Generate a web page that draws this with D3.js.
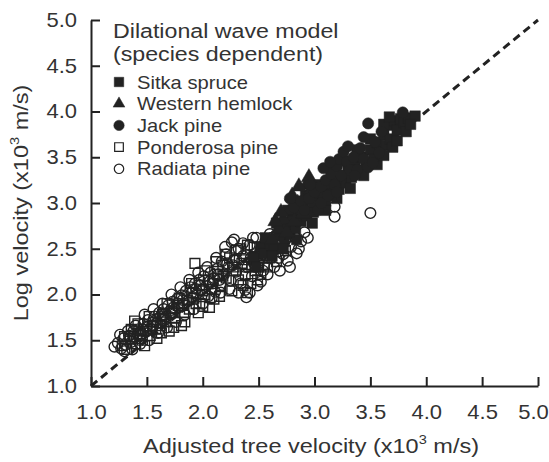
<!DOCTYPE html>
<html>
<head>
<meta charset="utf-8">
<script src="https://cdn.jsdelivr.net/npm/d3@7"></script>
<style>
  body { margin: 0; background: #fff; }
  svg { display: block; font-family: "Liberation Sans", Arial, sans-serif; }
</style>
</head>
<body>
<div id="chart"></div>
<script>
// ticks shared by both axes
const xTicks = [1.0, 1.5, 2.0, 2.5, 3.0, 3.5, 4.0, 4.5, 5.0]
const yTicks = [1.0, 1.5, 2.0, 2.5, 3.0, 3.5, 4.0, 4.5, 5.0]
const refLine = [[1, 1], [5, 5]]

// [adjusted tree velocity, log velocity] in 10^3 m/s
const radiataPine = [
  [1.21, 1.43], [1.24, 1.47], [1.27, 1.41], [1.29, 1.52], [1.31, 1.45], [1.34, 1.55],
  [1.36, 1.48], [1.38, 1.60], [1.41, 1.52], [1.43, 1.62], [1.45, 1.55], [1.47, 1.68],
  [1.49, 1.59], [1.51, 1.72], [1.53, 1.63], [1.55, 1.66], [1.57, 1.76], [1.59, 1.69],
  [1.61, 1.80], [1.63, 1.72], [1.65, 1.84], [1.67, 1.76], [1.69, 1.88], [1.71, 1.79],
  [1.73, 1.92], [1.75, 1.84], [1.77, 1.95], [1.79, 1.86], [1.81, 1.99], [1.83, 1.90],
  [1.85, 2.04], [1.87, 1.93], [1.89, 2.08], [1.91, 1.97], [1.93, 2.12], [1.95, 2.01],
  [1.97, 2.16], [1.99, 2.05], [2.01, 2.20], [2.03, 2.09], [2.05, 1.98], [2.07, 2.24],
  [2.09, 2.12], [2.11, 2.03], [2.13, 2.28], [2.15, 2.16], [2.17, 2.36], [2.19, 2.22],
  [2.21, 2.44], [2.23, 2.30], [2.25, 2.15], [2.26, 2.57], [2.28, 2.38], [2.30, 2.25],
  [2.32, 2.50], [2.34, 2.12], [2.36, 2.42], [2.38, 2.05], [2.39, 1.97], [2.40, 2.30],
  [2.42, 2.54], [2.44, 2.20], [2.46, 2.44], [2.48, 2.62], [2.49, 2.10], [2.50, 2.34],
  [2.52, 2.50], [2.54, 2.26], [2.56, 2.58], [2.58, 2.40], [2.60, 2.66], [2.62, 2.48],
  [2.64, 2.30], [2.66, 2.56], [2.69, 2.26], [2.72, 2.44], [2.74, 2.60], [2.76, 2.37],
  [2.79, 2.52], [2.82, 2.64], [2.84, 2.45], [2.88, 2.58], [2.91, 2.68], [2.94, 2.62],
  [1.26, 1.56], [1.30, 1.38], [1.33, 1.60], [1.37, 1.40], [1.40, 1.66], [1.44, 1.46],
  [1.48, 1.78], [1.52, 1.50], [1.56, 1.84], [1.60, 1.58], [1.64, 1.90], [1.68, 1.64],
  [1.72, 2.00], [1.76, 1.70], [1.80, 2.08], [1.84, 1.78], [1.88, 2.16], [1.92, 1.84],
  [1.96, 2.24], [2.00, 1.90], [2.04, 2.30], [2.08, 1.96], [2.12, 2.40], [2.16, 2.02],
  [2.20, 2.52], [2.24, 2.06], [2.28, 2.60], [2.32, 2.02], [2.36, 2.56], [2.42, 2.02],
  [2.45, 2.62], [2.52, 2.14], [2.58, 2.22], [2.62, 2.62], [2.68, 2.40], [2.78, 2.30],
  [2.86, 2.50], [2.70, 2.65],
  [1.35, 1.52], [1.42, 1.57], [1.50, 1.64], [1.58, 1.72], [1.66, 1.78], [1.74, 1.86],
  [1.82, 1.94], [1.90, 2.02], [1.98, 2.10], [2.06, 2.14], [2.14, 2.22], [2.22, 2.34],
  [2.30, 2.38], [2.38, 2.30], [2.46, 2.34], [2.54, 2.40], [2.60, 2.50], [1.46, 1.62],
  [1.62, 1.76], [1.78, 1.90], [1.94, 2.06], [2.10, 2.18], [2.27, 2.32], [2.43, 2.40],
  [3.18, 2.96], [3.18, 2.85], [3.50, 2.89]
]
const ponderosaPine = [
  [1.28, 1.44], [1.32, 1.40], [1.35, 1.52], [1.39, 1.71], [1.40, 1.46], [1.44, 1.57],
  [1.46, 1.50], [1.50, 1.62], [1.53, 1.55], [1.56, 1.70], [1.59, 1.52], [1.62, 1.66],
  [1.64, 1.78], [1.67, 1.70], [1.70, 1.60], [1.72, 1.82], [1.75, 1.74], [1.78, 1.88],
  [1.81, 1.66], [1.83, 1.80], [1.86, 1.94], [1.88, 1.84], [1.91, 2.02], [1.93, 2.34],
  [1.94, 1.90], [1.97, 2.10], [2.00, 1.87], [2.02, 2.00], [2.05, 2.16], [2.08, 2.06],
  [2.10, 1.95], [2.13, 2.22], [2.16, 2.10], [2.18, 2.32], [2.21, 2.18], [2.24, 2.40],
  [2.27, 2.26], [2.30, 2.48], [2.32, 2.16], [2.35, 2.34], [2.38, 2.22], [2.40, 2.54],
  [2.43, 2.12], [2.45, 2.38], [2.47, 2.26], [2.49, 2.16], [2.52, 2.44], [2.55, 2.32],
  [2.57, 2.55], [2.60, 2.40], [2.63, 2.50], [2.66, 2.36], [2.70, 2.56], [2.74, 2.48],
  [1.30, 1.54], [1.36, 1.62], [1.42, 1.68], [1.48, 1.44], [1.52, 1.76], [1.58, 1.62],
  [1.63, 1.58], [1.68, 1.90], [1.74, 1.64], [1.79, 1.96], [1.84, 1.70], [1.90, 2.12],
  [1.96, 1.80], [2.02, 2.26], [2.06, 1.86], [2.12, 2.36], [2.15, 1.98], [2.20, 2.44],
  [2.26, 2.04], [2.34, 2.50], [2.40, 2.02], [2.46, 2.52], [2.52, 2.22], [2.58, 2.30],
  [2.62, 2.60], [2.44, 2.30], [2.36, 2.10],
  [1.38, 1.54], [1.47, 1.60], [1.55, 1.66], [1.65, 1.74], [1.73, 1.80], [1.82, 1.88],
  [1.92, 1.96], [2.00, 2.04], [2.09, 2.12], [2.18, 2.20], [2.28, 2.30], [2.37, 2.38],
  [2.50, 2.30], [2.56, 2.44]
]
const sitkaSpruce = [
  [2.46, 2.40], [2.52, 2.52], [2.55, 2.45], [2.60, 2.56], [2.64, 2.50], [2.68, 2.64],
  [2.70, 2.72], [2.73, 2.58], [2.76, 2.76], [2.78, 2.66], [2.80, 2.86], [2.83, 2.72],
  [2.86, 2.92], [2.88, 2.80], [2.90, 2.98], [2.93, 2.86], [2.96, 3.04], [2.99, 2.90],
  [3.02, 3.08], [3.05, 2.96], [3.08, 3.14], [3.10, 3.02], [3.13, 3.20], [3.16, 3.10],
  [3.19, 3.26], [3.22, 3.15], [3.25, 3.30], [3.28, 3.22], [3.30, 3.38], [3.33, 3.28],
  [3.36, 3.44], [3.40, 3.36], [3.43, 3.50], [3.46, 3.42], [3.50, 3.58], [3.53, 3.48],
  [3.56, 3.66], [3.59, 3.56], [3.62, 3.74], [3.64, 3.63], [3.66, 3.85], [3.68, 3.70],
  [3.71, 3.90], [3.74, 3.80], [3.77, 3.92], [3.80, 3.88], [3.84, 3.93], [3.90, 3.95],
  [3.62, 3.86], [3.70, 3.61],
  [2.48, 2.30], [2.56, 2.62], [2.62, 2.42], [2.66, 2.78], [2.72, 2.50], [2.76, 2.92],
  [2.84, 2.60], [2.92, 3.08], [2.98, 2.78], [3.04, 3.20], [3.10, 2.92], [3.15, 3.38],
  [3.20, 3.05], [3.26, 3.46], [3.32, 3.16], [3.38, 3.58], [3.44, 3.30], [3.50, 3.70],
  [3.56, 3.42], [3.62, 3.52], [3.67, 3.94], [3.74, 3.68], [3.82, 3.78], [3.86, 3.86]
]
const westernHemlock = [
  [2.62, 2.60], [2.68, 2.72], [2.72, 2.82], [2.75, 2.68], [2.78, 2.92], [2.82, 2.80],
  [2.85, 3.00], [2.90, 2.88], [2.93, 3.20], [2.95, 3.28], [2.97, 3.15], [3.00, 3.00],
  [3.05, 3.10], [3.14, 3.07], [2.86, 3.18], [2.80, 3.08], [2.70, 2.90], [2.65, 2.80]
]
const jackPine = [
  [2.82, 2.95], [2.88, 3.02], [2.91, 2.92], [2.95, 3.05], [3.00, 3.12], [3.03, 2.92],
  [3.06, 3.18], [3.06, 3.00], [3.10, 3.25], [3.12, 3.08], [3.15, 3.32], [3.18, 3.20],
  [3.20, 3.40], [3.22, 3.48], [3.24, 3.30], [3.26, 3.56], [3.29, 3.45], [3.32, 3.36],
  [3.35, 3.50], [3.38, 3.36], [3.41, 3.60], [3.44, 3.48], [3.48, 3.39], [3.48, 3.87],
  [3.52, 3.44], [3.54, 3.67], [3.58, 3.55], [3.79, 3.99],
  [2.78, 3.05], [2.96, 3.20], [3.08, 3.38], [3.14, 3.45], [3.30, 3.62], [3.44, 3.72],
  [3.60, 3.78], [3.36, 3.30], [3.20, 3.12]
]

const series = [
  { name: "Sitka spruce", data: sitkaSpruce, type: d3.symbolSquare, size: 110, legendSize: 90, filled: true },
  { name: "Western hemlock", data: westernHemlock, type: d3.symbolTriangle, size: 100, legendSize: 60, filled: true },
  { name: "Jack pine", data: jackPine, type: d3.symbolCircle, size: 100, legendSize: 85, filled: true },
  { name: "Ponderosa pine", data: ponderosaPine, type: d3.symbolSquare, size: 95, legendSize: 75, filled: false },
  { name: "Radiata pine", data: radiataPine, type: d3.symbolCircle, size: 90, legendSize: 70, filled: false }
]
// open markers go underneath the filled ones
const drawOrder = [3, 4, 0, 1, 2]

const width = 549
const height = 462
const ink = "#222"
const textInk = "#333"
const stretchX = 1.12

const xScale = d3.scaleLinear().domain([1, 5]).range([91, 538])
const yScale = d3.scaleLinear().domain([1, 5]).range([386, 20])

const svg = d3.select("#chart").append("svg")
    .attr("width", width)
    .attr("height", height)

// text helper, a group lets the glyphs be widened a touch
const label = (parent, x, y, anchor, size, k = stretchX) => parent.append("g")
    .attr("transform", `translate(${x},${y}) scale(${k},1)`)
  .append("text")
    .attr("text-anchor", anchor)
    .attr("font-size", size)
    .attr("fill", textInk)

// Axes, ticks point inwards
svg.append("g")
    .attr("class", "x-axis")
    .attr("transform", `translate(0,${yScale(1)})`)
    .call(d3.axisBottom(xScale).tickValues(xTicks).tickFormat(d3.format(".1f"))
      .tickSize(-9).tickSizeOuter(0).tickPadding(19))
svg.append("g")
    .attr("class", "y-axis")
    .attr("transform", `translate(${xScale(1)},0)`)
    .call(d3.axisLeft(yScale).tickValues(yTicks).tickFormat(d3.format(".1f"))
      .tickSize(-9).tickSizeOuter(0).tickPadding(14))

svg.selectAll(".domain, .tick line")
    .attr("stroke", ink)
    .attr("stroke-width", 2)
svg.selectAll(".tick text")
    .attr("font-size", 20)
    .attr("font-family", "Liberation Sans, Arial, sans-serif")
    .attr("fill", textInk)
    .attr("transform", "scale(1.1,1)")
svg.selectAll(".y-axis .tick text").attr("x", -14 / 1.1)
svg.selectAll(".x-axis .tick text").filter(d => d === 5).attr("x", -5 / 1.1)

// 1:1 line
svg.append("path")
    .attr("d", d3.line().x(d => xScale(d[0])).y(d => yScale(d[1]))(refLine))
    .attr("stroke", ink)
    .attr("stroke-width", 3)
    .attr("stroke-dasharray", "8,5")
    .attr("fill", "none")

// Points
drawOrder.forEach(i => {
  const s = series[i]
  svg.append("g").selectAll("path")
    .data(s.data)
    .join("path")
      .attr("transform", d => `translate(${xScale(d[0])},${yScale(d[1])})`)
      .attr("d", d3.symbol(s.type, s.size))
      .attr("fill", s.filled ? ink : "none")
      .attr("stroke", ink)
      .attr("stroke-width", s.filled ? 0.5 : 1.4)
})

// Legend
label(svg, 113, 38, "start", 20, 1.16).text("Dilational wave model")
label(svg, 113, 61, "start", 20, 1.16).text("(species dependent)")
series.forEach((s, i) => {
  const cy = 82 + i * 21.7
  svg.append("path")
      .attr("transform", `translate(119,${cy})`)
      .attr("d", d3.symbol(s.type, s.legendSize))
      .attr("fill", s.filled ? ink : "none")
      .attr("stroke", ink)
      .attr("stroke-width", s.filled ? 0.5 : 1.2)
  label(svg, 137, cy + 6.5, "start", 18).text(s.name)
})

// Axis titles
const xTitle = label(svg, 311, 453, "middle", 21)
xTitle.append("tspan").text("Adjusted tree velocity (x10")
xTitle.append("tspan").attr("font-size", 13).attr("dy", -9).text("3")
xTitle.append("tspan").attr("dy", 9).text(" m/s)")

const yGroup = svg.append("g").attr("transform", "translate(28,203) rotate(-90)")
const yTitle = label(yGroup, 0, 0, "middle", 21)
yTitle.append("tspan").text("Log velocity (x10")
yTitle.append("tspan").attr("font-size", 13).attr("dy", -9).text("3")
yTitle.append("tspan").attr("dy", 9).text(" m/s)")
</script>
</body>
</html>
